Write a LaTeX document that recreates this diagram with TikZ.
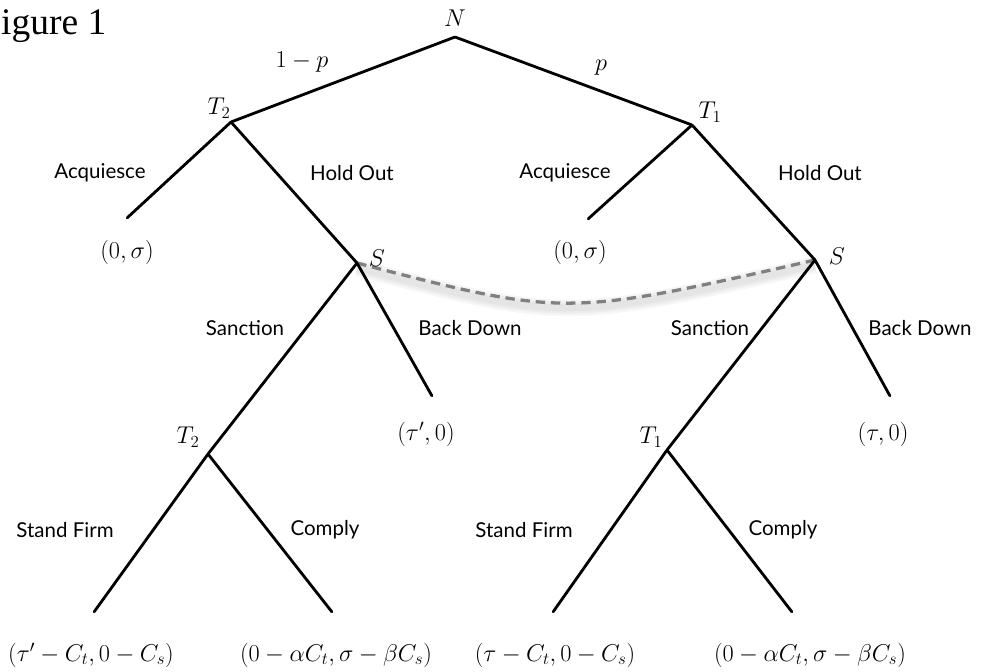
\documentclass[tikz,border=0pt]{standalone}
\usepackage{fontspec}
\setsansfont{Lato}
\newfontfamily\capfont{Liberation Serif}
\usetikzlibrary{positioning, calc}

\tikzset{
  branch/.style={line width=2.4pt, line cap=round},
  vertex/.style={inner sep=0pt, minimum size=0pt},
  move/.style={font=\sffamily\fontsize{17.5}{21}\selectfont},
  player/.style={font=\fontsize{21}{25}\selectfont},
  payoff/.style={font=\fontsize{21}{25}\selectfont},
  endpay/.style={font=\fontsize{20}{24}\selectfont},
  infoset/.style={gray, line width=2.8pt, dash pattern=on 8pt off 5pt},
  glow/.style={black, opacity=0.035, transform canvas={yshift=-4pt}}
}

\begin{document}
\begin{tikzpicture}[x=0.3mm, y=-0.3mm]
    \useasboundingbox (0,0) rectangle (985,671);
    % Cut-off caption
    \node[anchor=base west, inner sep=0pt, font=\capfont\fontsize{32}{36}\selectfont] (cap) at (1,34) {igure 1};

    % Decision nodes
    \node[vertex] (N) at (455,37) {};
    \node[vertex] (T2) at (231,122) {};
    \node[vertex] (T1) at (692,125) {};
    \node[vertex] (S2) at (357,263) {};
    \node[vertex] (S1) at (815,260) {};
    \node[vertex] (T2b) at (208,454) {};
    \node[vertex] (T1b) at (667,450) {};
    % Terminal nodes
    \node[vertex] (acq2) at (127,218) {};
    \node[vertex] (acq1) at (588,219) {};
    \node[vertex] (back2) at (432,396) {};
    \node[vertex] (back1) at (890,396) {};
    \node[vertex] (firm2) at (94,612) {};
    \node[vertex] (comp2) at (332,612) {};
    \node[vertex] (firm1) at (553,612) {};
    \node[vertex] (comp1) at (792,612) {};

    % Information set (drawn first, under the branches)
    \foreach \w in {14,10,6}
        \draw[glow, line width=\w pt] (S2) .. controls (565,317) .. (S1);
    \draw[infoset] (S2) .. controls (565,317) .. (S1);

    % Branches
    \draw[branch] (T2) -- (N) -- (T1);
    \draw[branch] (acq2) -- (T2) -- (S2);
    \draw[branch] (acq1) -- (T1) -- (S1);
    \draw[branch] (T2b) -- (S2) -- (back2);
    \draw[branch] (T1b) -- (S1) -- (back1);
    \draw[branch] (firm2) -- (T2b) -- (comp2);
    \draw[branch] (firm1) -- (T1b) -- (comp1);

    % Player labels
    \node[player] (lN) at (455,18) {$N$};
    \node[player] (lT2) at (219,108) {$T_2$};
    \node[player] (lT1) at (710,112) {$T_1$};
    \node[player] (lS2) at (377,258) {$S$};
    \node[player] (lS1) at (837,256) {$S$};
    \node[player] (lT2b) at (188,437) {$T_2$};
    \node[player] (lT1b) at (651,437) {$T_1$};
    % Chance moves
    \node[player] (q) at (302,62) {$1-p$};
    \node[player] (p) at (601,68) {$p$};

    % Move labels
    \node[move] (mA2) at (100,173) {Acquiesce};
    \node[move] (mH2) at (352,173) {Hold Out};
    \node[move] (mA1) at (565,173) {Acquiesce};
    \node[move] (mH1) at (820,173) {Hold Out};
    \node[move] (mS2) at (245,328) {Sanction};
    \node[move] (mB2) at (470,328) {Back Down};
    \node[move] (mS1) at (710,328) {Sanction};
    \node[move] (mB1) at (920,328) {Back Down};
    \node[move] (mF2) at (65,530) {Stand Firm};
    \node[move] (mC2) at (325,530) {Comply};
    \node[move] (mF1) at (524,530) {Stand Firm};
    \node[move] (mC1) at (783,530) {Comply};

    % Payoffs
    \node[payoff] (pA2) at (127,252) {$(0,\sigma)$};
    \node[payoff] (pA1) at (580,252) {$(0,\sigma)$};
    \node[payoff] (pB2) at (426,434) {$(\tau',0)$};
    \node[payoff] (pB1) at (883,434) {$(\tau,0)$};
    \node[endpay] (pF2) at (91,655) {$(\tau'-C_t,0-C_s)$};
    \node[endpay] (pC2) at (336,655) {$(0-\alpha C_t,\sigma-\beta C_s)$};
    \node[endpay] (pF1) at (555,655) {$(\tau-C_t,0-C_s)$};
    \node[endpay] (pC1) at (810,655) {$(0-\alpha C_t,\sigma-\beta C_s)$};
\end{tikzpicture}
\end{document}
